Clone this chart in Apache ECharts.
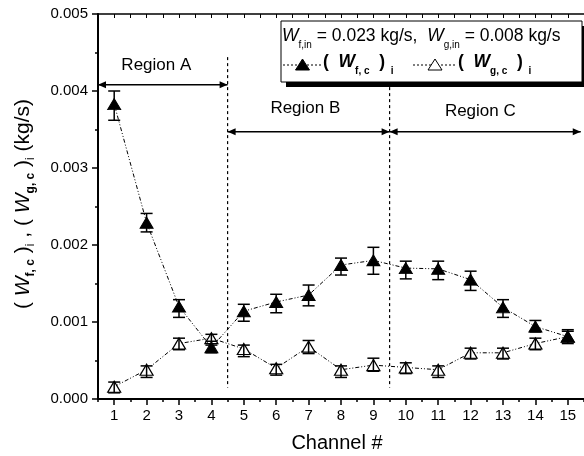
<!DOCTYPE html>
<html><head><meta charset="utf-8">
<script src="https://cdn.jsdelivr.net/npm/echarts@6/dist/echarts.min.js"></script>
<style>html,body{margin:0;padding:0;background:#fff}#c{width:584px;height:456px}</style>
</head><body><div id="c"></div>
<script>
const channels = [1,2,3,4,5,6,7,8,9,10,11,12,13,14,15];
const channelLabels = ['1','2','3','4','5','6','7','8','9','10','11','12','13','14','15'];
const fVals = [0.00383,0.00229,0.00120,0.00067,0.00114,0.00126,0.00135,0.00174,0.00180,0.00170,0.00169,0.00155,0.00119,0.00094,0.00081];
const fHi   = [0.00400,0.00241,0.00129,0.00075,0.00123,0.00136,0.00148,0.00183,0.00197,0.00179,0.00179,0.00166,0.00129,0.00102,0.00090];
const fLo   = [0.00362,0.00217,0.00106,0.00060,0.00101,0.00112,0.00121,0.00161,0.00162,0.00156,0.00155,0.00141,0.00106,0.00087,0.00072];
const gVals = [0.00016,0.00038,0.00072,0.00079,0.00065,0.00040,0.00068,0.00038,0.00044,0.00041,0.00038,0.00060,0.00060,0.00072,0.00081];
const gHi   = [0.00022,0.00043,0.00079,0.00084,0.00070,0.00045,0.00076,0.00043,0.00053,0.00047,0.00043,0.00066,0.00066,0.00079,0.00088];
const gLo   = [0.00008,0.00028,0.00064,0.00070,0.00055,0.00031,0.00059,0.00028,0.00036,0.00033,0.00028,0.00052,0.00052,0.00064,0.00075];
const yTicks = [0, 0.001, 0.002, 0.003, 0.004, 0.005];
const regionNames = ['Region A','Region B','Region C'];
const regionFrom  = [0.5, 4.5, 9.5];
const regionTo    = [4.5, 9.5, 15.4];
const regionArrowY = [0.00408, 0.00347, 0.00347];
const regionLabelX = [2.3, 6.9, 12.3];
const regionLabelY = [0.00434, 0.00377, 0.00374];
const dividerX = [4.5, 9.5];
const dividerTop = 0.00444, dividerBottom = 0.00015;

const FAM = '"Liberation Sans", Arial, sans-serif';
const mctx = document.createElement('canvas').getContext('2d');
function fontStr(s){ return (s.style||'normal')+' '+(s.weight||'normal')+' '+s.size+'px '+FAM; }
function measure(segs){ let w=0; for(const s of segs){ mctx.font=fontStr(s); w+=mctx.measureText(s.text).width; } return w; }
function runs(segs, x0, y0, z){
  let x=x0; const els=[];
  for(const s of segs){
    mctx.font=fontStr(s);
    const el={type:'text', x:x, y:y0+(s.dy||0), style:{text:s.text, fontSize:s.size, fontFamily:FAM, fontStyle:s.style||'normal', fontWeight:s.weight||'normal', fill:'#000', align:'left', verticalAlign:'middle'}};
    if(z!=null) el.z=z;
    els.push(el);
    x+=mctx.measureText(s.text).width;
  }
  return els;
}

const chart = echarts.init(document.getElementById('c'), null, {renderer:'canvas'});

const M=21, S=12, D=8;
const ySegs = [
  {text:'( ', size:M},{text:'W', size:M, style:'italic'},{text:'f, c', size:S, weight:'bold', dy:D},{text:' )', size:M},{text:'i', size:S, dy:D},
  {text:' , ', size:M},
  {text:'( ', size:M},{text:'W', size:M, style:'italic'},{text:'g, c', size:S, weight:'bold', dy:D},{text:' )', size:M},{text:'i', size:S, dy:D},
  {text:' (kg/s)', size:M}
];
const yW = measure(ySegs);

const L=17.5, LS=10, LD=9;
const leg1 = [
  {text:'W', size:L, style:'italic'},{text:'f,in', size:LS, dy:LD},{text:' = 0.023 kg/s,  ', size:L},
  {text:'W', size:L, style:'italic'},{text:'g,in', size:LS, dy:LD},{text:' = 0.008 kg/s', size:L}
];
const legF = [{text:'(  ', size:L, weight:'bold'},{text:'W', size:L, weight:'bold', style:'italic'},{text:'f, c', size:LS, weight:'bold', dy:LD},{text:'  )', size:L, weight:'bold'},{text:'  i', size:LS, weight:'bold', dy:LD}];
const legG = [{text:'(  ', size:L, weight:'bold'},{text:'W', size:L, weight:'bold', style:'italic'},{text:'g, c', size:LS, weight:'bold', dy:LD},{text:'  )', size:L, weight:'bold'},{text:'  i', size:LS, weight:'bold', dy:LD}];

function legendSample(x1, x2, y, filled){
  const cx=(x1+x2)/2;
  return [
    {type:'line', z:110, shape:{x1:x1,y1:y,x2:x2,y2:y}, style:{stroke:'#000', lineWidth:1, lineDash:[2,2]}},
    {type:'polygon', z:111, shape:{points:[[cx,y-6],[cx+7,y+5],[cx-7,y+5]]}, style:{fill: filled?'#000':'#fff', stroke:'#000', lineWidth:1}}
  ];
}

const graphics = [
  {type:'group', x:23, y:204, rotation:Math.PI/2, children: runs(ySegs, -yW/2, 0)},
  {type:'text', x:337, y:443, style:{text:'Channel #', fontSize:20, fontFamily:FAM, fill:'#000', align:'center', verticalAlign:'middle'}},
  {type:'rect', shape:{x:286, y:26, width:301, height:61}, style:{fill:'#000'}, z:100},
  {type:'rect', shape:{x:281, y:21, width:301, height:61}, style:{fill:'#fff', stroke:'#000', lineWidth:1}, z:101}
].concat(
  runs(leg1, 282, 36, 110),
  legendSample(283, 322, 65, true),
  runs(legF, 323, 62, 110),
  legendSample(413, 457, 65, false),
  runs(legG, 458, 62, 110)
);

function errRender(){
  return function(params, api){
    const x=api.value(0), l=api.value(1), h=api.value(2);
    const p1=api.coord([x,h]), p2=api.coord([x,l]); const w=6;
    const st={stroke:'#000', lineWidth:1.5};
    return {type:'group', children:[
      {type:'line', shape:{x1:p1[0],y1:p1[1],x2:p2[0],y2:p2[1]}, style:st},
      {type:'line', shape:{x1:p1[0]-w,y1:p1[1],x2:p1[0]+w,y2:p1[1]}, style:st},
      {type:'line', shape:{x1:p2[0]-w,y1:p2[1],x2:p2[0]+w,y2:p2[1]}, style:st}
    ]};
  };
}

function arrowHead(tip, dir){
  const len=8, hw=3.5;
  return {type:'polygon', shape:{points:[[tip[0],tip[1]],[tip[0]-dir*len,tip[1]-hw],[tip[0]-dir*len,tip[1]+hw]]}, style:{fill:'#000'}};
}

const regionData = regionNames.map((n,i)=>[regionFrom[i], regionTo[i], regionArrowY[i], regionLabelX[i], regionLabelY[i], i]);

const option = {
  animation:false,
  backgroundColor:'#fff',
  textStyle:{fontFamily:FAM},
  grid:{left:98, right:-2, top:14, bottom:57, containLabel:false},
  xAxis:[
    {type:'value', min:0.5, max:15.5, interval:0.5, position:'bottom',
     axisLine:{show:true, onZero:false, lineStyle:{color:'#000', width:2}},
     axisTick:{show:true, inside:false, length:3, lineStyle:{color:'#000', width:1.5}},
     axisLabel:{show:false}, splitLine:{show:false}},
    {type:'category', data:channelLabels, position:'bottom', boundaryGap:true,
     axisLine:{show:false, onZero:false},
     axisTick:{show:true, alignWithLabel:true, inside:false, length:6, lineStyle:{color:'#000', width:1.5}},
     axisLabel:{show:true, color:'#000', fontSize:15, fontFamily:FAM, margin:9, interval:0},
     splitLine:{show:false}},
    {type:'value', min:0.5, max:15.5, interval:0.5, position:'top',
     axisLine:{show:true, onZero:false, lineStyle:{color:'#000', width:1.5}},
     axisTick:{show:true, inside:true, length:4, lineStyle:{color:'#000', width:1}},
     axisLabel:{show:false}, splitLine:{show:false}}
  ],
  yAxis:[
    {type:'value', min:yTicks[0], max:yTicks[yTicks.length-1], interval:0.001, position:'left',
     axisLine:{show:true, onZero:false, lineStyle:{color:'#000', width:2}},
     axisTick:{show:true, inside:false, length:6, lineStyle:{color:'#000', width:1.5}},
     minorTick:{show:true, splitNumber:2, length:3, lineStyle:{color:'#000', width:1.5}},
     axisLabel:{color:'#000', fontSize:15, fontFamily:FAM, margin:10, formatter:v=>v.toFixed(3)},
     splitLine:{show:false}}
  ],
  graphic: graphics,
  series:[
    {type:'custom', name:'regions', xAxisIndex:0, yAxisIndex:0, z:1, silent:true,
     data: regionData,
     renderItem:function(params, api){
       const i=api.value(5);
       const a=api.coord([api.value(0), api.value(2)]), b=api.coord([api.value(1), api.value(2)]);
       const lab=api.coord([api.value(3), api.value(4)]);
       const ch=[
         {type:'line', shape:{x1:a[0],y1:a[1],x2:b[0],y2:b[1]}, style:{stroke:'#000', lineWidth:1.5}},
         arrowHead(a,-1), arrowHead(b,1),
         {type:'text', x:lab[0], y:lab[1], style:{text:regionNames[i], fontSize:17, fontFamily:FAM, fill:'#000', align:'center', verticalAlign:'middle'}}
       ];
       if(i<dividerX.length){
         const t=api.coord([dividerX[i], dividerTop]), bt=api.coord([dividerX[i], dividerBottom]);
         ch.push({type:'line', shape:{x1:t[0],y1:t[1],x2:bt[0],y2:bt[1]}, style:{stroke:'#000', lineWidth:1.2, lineDash:[3,3]}});
       }
       return {type:'group', children:ch};
     }},
    {type:'line', name:'g', xAxisIndex:0, data:channels.map((c,i)=>[c,gVals[i]]), z:3,
     symbol:'triangle', symbolSize:[13,11], showAllSymbol:true,
     lineStyle:{color:'#000', width:1, type:[4,2,1,2,1,2]},
     itemStyle:{color:'#fff', borderColor:'#000', borderWidth:1.2}},
    {type:'custom', name:'gErr', xAxisIndex:0, data:channels.map((c,i)=>[c,gLo[i],gHi[i]]), z:4, renderItem:errRender()},
    {type:'line', name:'f', xAxisIndex:0, data:channels.map((c,i)=>[c,fVals[i]]), z:5,
     symbol:'triangle', symbolSize:[13,11], showAllSymbol:true,
     lineStyle:{color:'#000', width:1, type:[4,2,1,2,1,2]},
     itemStyle:{color:'#000', borderColor:'#000', borderWidth:1}},
    {type:'custom', name:'fErr', xAxisIndex:0, data:channels.map((c,i)=>[c,fLo[i],fHi[i]]), z:6, renderItem:errRender()}
  ]
};
chart.setOption(option);
</script>
</body></html>
